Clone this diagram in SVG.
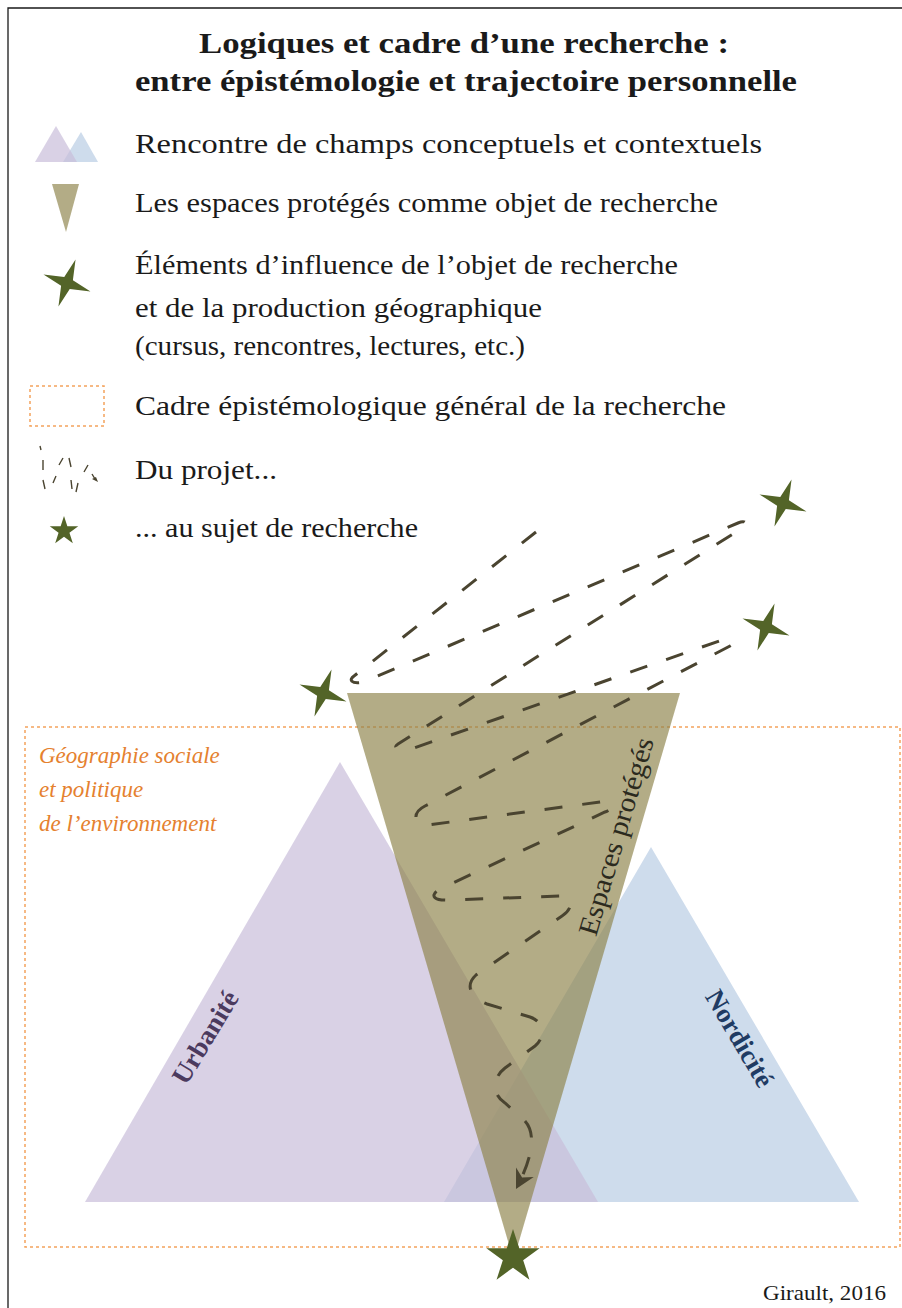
<svg xmlns="http://www.w3.org/2000/svg" width="902" height="1308" viewBox="0 0 902 1308">
<style>
.t{font-family:"Liberation Serif","Times New Roman",serif;fill:#1a1a1a}
.title{font-size:30px;font-weight:bold}
.leg{font-size:28px}
.geo{font-size:23px;font-style:italic;fill:#e5812f}
.purple{fill:#c9bdda;fill-opacity:0.7}
.blue{fill:#cedcec}
.khaki{fill:#8f854d;fill-opacity:0.68}
.star{fill:#536428}
.frame{fill:none;stroke:#f4a35c;stroke-width:1.5;stroke-dasharray:3 3}
.dash{fill:none;stroke:#4a4430;stroke-width:3;stroke-dasharray:18 20;stroke-linecap:butt}
.mini{fill:none;stroke:#4a4430;stroke-width:1.4}
</style>
<defs>
<path id="star4" d="M8.55,-23.5 L5.89,-2.75 L23.5,8.55 L2.75,5.89 L-8.55,23.5 L-5.89,2.75 L-23.5,-8.55 L-2.75,-5.89 Z"/>
<path id="star5" d="M0,-10 L2.245,-3.09 L9.51,-3.09 L3.63,1.18 L5.88,8.09 L0,3.82 L-5.88,8.09 L-3.63,1.18 L-9.51,-3.09 L-2.245,-3.09 Z"/>
<marker id="arrow" markerUnits="userSpaceOnUse" viewBox="-21 -12 23 24" markerWidth="23" markerHeight="24" refX="0" refY="0" orient="auto">
<path d="M0,0 L-19,-10 L-13,0 L-19,10 Z" fill="#4a4430"/>
</marker>
</defs>
<rect x="0" y="0" width="902" height="1308" fill="#ffffff"/>
<g id="border"><path d="M8,1308 L8,8 L902,8" fill="none" stroke="#1a1a1a" stroke-width="1.3"/></g>

<g id="title">
<text class="t title" x="464" y="53" text-anchor="middle" textLength="530" lengthAdjust="spacingAndGlyphs">Logiques et cadre d’une recherche :</text>
<text class="t title" x="466" y="91" text-anchor="middle" textLength="662" lengthAdjust="spacingAndGlyphs">entre épistémologie et trajectoire personnelle</text>
</g>

<g id="legend-champs">
<polygon class="blue" points="63,162 81,132 98,162"/>
<polygon class="purple" points="35,162 56,126 77,162"/>
<text class="t leg" x="135" y="153" textLength="627" lengthAdjust="spacingAndGlyphs">Rencontre de champs conceptuels et contextuels</text>
</g>
<g id="legend-espaces">
<polygon class="khaki" points="52,184 79,184 66,232"/>
<text class="t leg" x="135" y="212" textLength="583" lengthAdjust="spacingAndGlyphs">Les espaces protégés comme objet de recherche</text>
</g>
<g id="legend-influence">
<use href="#star4" class="star" transform="translate(67,283)"/>
<text class="t leg" x="135" y="274" textLength="543" lengthAdjust="spacingAndGlyphs">Éléments d’influence de l’objet de recherche</text>
<text class="t leg" x="135" y="317" textLength="407" lengthAdjust="spacingAndGlyphs">et de la production géographique</text>
<text class="t leg" x="135" y="355" textLength="390" lengthAdjust="spacingAndGlyphs">(cursus, rencontres, lectures, etc.)</text>
</g>
<g id="legend-cadre">
<rect class="frame" x="30" y="386" width="74" height="40"/>
<text class="t leg" x="135" y="415" textLength="591" lengthAdjust="spacingAndGlyphs">Cadre épistémologique général de la recherche</text>
</g>
<g id="legend-projet">
<path class="mini" d="M40,446 L41,450 M43,460 L43,470 M59,465 L63,458 M69,458 L71,467 M43,480 L45,489 M53,483 L56,476 M71,480 L72,489 M78,483 L76,492 M84,472 L88,465 M92,474 L95,479"/>
<polygon points="98,482 92,479 96,477" fill="#4a4430"/>
<text class="t leg" x="135" y="479" textLength="142" lengthAdjust="spacingAndGlyphs">Du projet...</text>
</g>
<g id="legend-sujet">
<use href="#star5" class="star" transform="translate(64,531) scale(1.5)"/>
<text class="t leg" x="135" y="537" textLength="283" lengthAdjust="spacingAndGlyphs">... au sujet de recherche</text>
</g>

<g id="cadre-general">
<rect class="frame" x="25" y="727" width="875" height="520"/>
<text class="t geo" x="39" y="763">Géographie sociale</text>
<text class="t geo" x="39" y="797">et politique</text>
<text class="t geo" x="39" y="831">de l’environnement</text>
</g>

<g id="nordicite">
<polygon class="blue" points="444,1202 651,847 859,1202"/>
<text class="t" x="732" y="1043" text-anchor="middle" transform="rotate(59.5 732 1043)" style="font-size:27px;font-weight:bold;fill:#1f3b63">Nordicité</text>
</g>
<g id="urbanite">
<polygon class="purple" points="85,1202 340,762 598,1202"/>
<text class="t" x="213" y="1042" text-anchor="middle" transform="rotate(-59 213 1042)" style="font-size:27px;font-weight:bold;fill:#4b3a5e">Urbanité</text>
</g>
<g id="espaces-proteges">
<polygon class="khaki" points="347,693 680,693 513.5,1260"/>
<text class="t" x="625" y="839" text-anchor="middle" transform="rotate(-73.5 625 839)" textLength="205" lengthAdjust="spacingAndGlyphs" style="font-size:28px;fill:#2b2a1e">Espaces protégés</text>
</g>

<g id="connectors">
<path class="dash" marker-end="url(#arrow)" d="M536,532 L354,676 C346,682 357,685 366,681 L738,523 C747,519 748,525 741,529 L398,744 C390,749 405,751 414,748 L722,640 C731,637 737,642 730,646 L425,806 C411,813 414,826 428,825 L600,802 C614,800 616,808 605,812 L440,889 C428,896 435,901 450,900 L562,896 C575,897 572,910 562,916 L476,975 C465,985 470,998 487,1004 L530,1017 C545,1022 545,1038 535,1046 L505,1068 C492,1078 492,1095 505,1103 L524,1120 C536,1132 534,1155 516,1189"/>
</g>

<g id="star-left"><use href="#star4" class="star" transform="translate(323,693)"/></g>
<g id="star-top-right"><use href="#star4" class="star" transform="translate(783,503)"/></g>
<g id="star-mid-right"><use href="#star4" class="star" transform="translate(766,627)"/></g>
<g id="star-sujet"><use href="#star5" class="star" transform="translate(513,1257) scale(2.8)"/></g>

<g id="credit">
<text class="t" x="763" y="1300" textLength="123" lengthAdjust="spacingAndGlyphs" style="font-size:22px">Girault, 2016</text>
</g>
</svg>
